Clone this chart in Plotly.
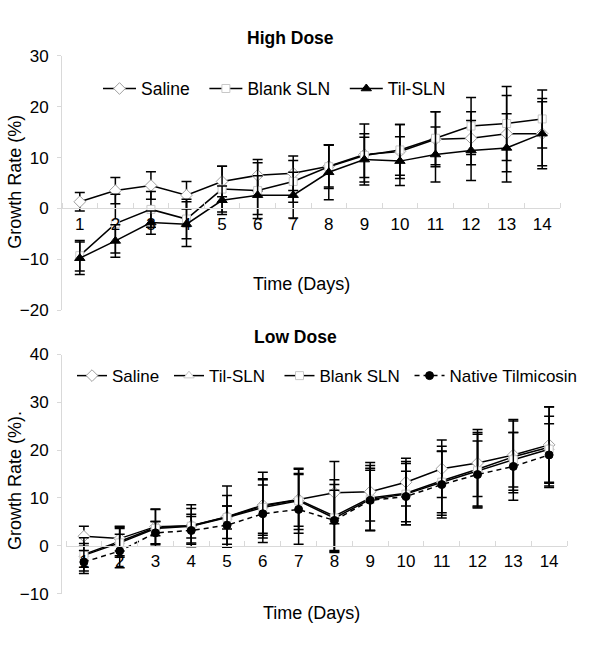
import plotly.graph_objects as go

days = list(range(1, 15))
day_labels = [str(d) for d in days]

# High dose
high_saline = [1.3, 3.5, 4.5, 2.6, 5.3, 6.5, 6.9, 8.3, 10.6, 11.2, 13.6, 13.8, 14.7, 14.7]
high_saline_sd = [1.8, 2.6, 2.7, 2.7, 3.0, 3.1, 3.4, 4.1, 6.0, 5.3, 5.4, 5.2, 7.5, 6.9]
high_blank = [-9.3, -3.0, -0.2, -2.1, 3.8, 3.5, 5.3, 8.2, 10.4, 11.5, 13.8, 16.2, 16.7, 17.6]
high_blank_sd = [3.0, 5.8, 3.5, 3.9, 4.5, 5.5, 4.1, 4.3, 4.3, 5.0, 5.2, 5.6, 7.3, 5.7]
high_til = [-9.8, -6.4, -2.8, -3.1, 1.6, 2.6, 2.6, 7.1, 9.6, 9.3, 10.6, 11.4, 11.9, 14.7]
high_til_sd = [3.2, 3.2, 2.3, 4.4, 2.8, 3.8, 4.5, 5.4, 4.4, 4.8, 5.4, 5.9, 6.7, 6.3]

# Low dose
low_saline = [2.0, 1.5, 4.0, 4.2, 6.1, 8.5, 9.7, 11.1, 11.3, 13.3, 16.1, 17.3, 19.0, 21.1]
low_saline_sd = [2.1, 2.6, 3.6, 4.4, 6.4, 6.9, 6.3, 6.5, 6.1, 5.0, 6.0, 7.0, 7.4, 8.0]
low_til = [-1.8, 0.9, 3.8, 4.2, 6.0, 8.3, 9.6, 6.2, 10.0, 11.0, 13.6, 16.0, 18.6, 20.6]
low_til_sd = [3.5, 3.0, 3.9, 3.6, 4.5, 5.7, 5.5, 7.6, 6.8, 6.6, 7.2, 7.7, 7.5, 8.4]
low_blank = [-2.0, 0.6, 3.6, 4.1, 5.9, 8.0, 9.4, 5.8, 9.7, 10.8, 13.3, 15.7, 18.0, 20.2]
low_blank_sd = [2.5, 3.0, 1.5, 2.5, 2.4, 5.8, 6.8, 7.0, 6.5, 6.4, 6.4, 7.6, 5.7, 6.9]
low_native = [-3.4, -1.1, 2.7, 3.2, 4.3, 6.7, 7.6, 5.3, 9.5, 10.3, 12.8, 14.9, 16.6, 19.0]
low_native_sd = [2.4, 3.5, 2.4, 2.9, 4.0, 6.0, 7.3, 6.3, 6.3, 5.3, 7.0, 7.0, 7.1, 6.5]

W, H = 600, 657
FONT = "Arial, Liberation Sans, sans-serif"
AX = "#d9d9d9"
NB = "\u00a0"


def fx(p):
    return p / W


def fy(p):
    return 1 - p / H


def err(sd):
    return dict(type="data", array=sd, color="black", thickness=1.5, width=5)


fig = go.Figure()


def add(y, sd, name, symbol, fill, outline, xa, ya, leg, dash="solid", size=8):
    fig.add_trace(go.Scatter(
        x=days, y=y, name=name, mode="lines+markers",
        line=dict(color="black", width=1.5, dash=dash),
        marker=dict(symbol=symbol, size=size, color=fill,
                    line=dict(color=outline, width=1)),
        error_y=err(sd), xaxis=xa, yaxis=ya, legend=leg,
    ))


add(high_saline, high_saline_sd, "Saline" + NB * 2, "diamond", "white", "#a0a0a0", "x", "y", "legend", size=9)
add(high_blank, high_blank_sd, "Blank SLN" + NB * 2, "square", "white", "#c8c8c8", "x", "y", "legend")
add(high_til, high_til_sd, "Til-SLN", "triangle-up", "black", "black", "x", "y", "legend", size=9)

add(low_saline, low_saline_sd, "Saline" + NB, "diamond", "white", "#a0a0a0", "x2", "y2", "legend2", size=9)
add(low_til, low_til_sd, "Til-SLN" + NB * 2, "triangle-up", "white", "#c8c8c8", "x2", "y2", "legend2", size=9)
add(low_blank, low_blank_sd, "Blank SLN" + NB, "square", "white", "#c8c8c8", "x2", "y2", "legend2")
add(low_native, low_native_sd, "Native Tilmicosin", "circle", "black", "black", "x2", "y2", "legend2",
    dash="5px,4px")

tickfont = dict(family=FONT, size=17, color="black")


def yax(domain, rng):
    return dict(domain=domain, range=rng, dtick=10, showline=True, linecolor=AX,
                linewidth=1, ticks="outside", ticklen=4, tickcolor=AX,
                ticklabelstandoff=5,
                showgrid=False, zeroline=False, tickfont=tickfont)


def xax(domain, pos):
    return dict(domain=domain, range=[0.5, 14.5], anchor="free", position=pos,
                tickvals=days, ticktext=day_labels, ticks="", showline=True,
                linecolor=AX, linewidth=1, showgrid=False, zeroline=False,
                tickfont=tickfont,
                minor=dict(ticks="inside", tick0=0.5, dtick=1, ticklen=5,
                           tickcolor=AX, showgrid=False))


def note(text, x, y, size, angle=0):
    return dict(text=text, x=fx(x), y=fy(y), xref="paper", yref="paper",
                xanchor="center", yanchor="middle", showarrow=False,
                textangle=angle, font=dict(family=FONT, size=size, color="black"))


fig.update_layout(
    width=W, height=H, margin=dict(l=0, r=0, t=0, b=0),
    paper_bgcolor="white", plot_bgcolor="white",
    font=dict(family=FONT, size=17, color="black"),
    xaxis=xax([fx(62), fx(560)], fy(205.3)),
    yaxis=yax([fy(310), fy(48.3)], [-20, 30]),
    xaxis2=xax([fx(66), fx(567)], fy(552.6)),
    yaxis2=yax([fy(602), fy(355.8)], [-10, 40]),
    legend=dict(orientation="h", x=fx(98), y=fy(82), xanchor="left", yanchor="middle",
                font=dict(family=FONT, size=17.5), bgcolor="rgba(0,0,0,0)",
                itemwidth=33, tracegroupgap=0),
    legend2=dict(orientation="h", x=fx(72), y=fy(378), xanchor="left", yanchor="middle",
                 font=dict(family=FONT, size=17), bgcolor="rgba(0,0,0,0)",
                 itemwidth=30, tracegroupgap=0),
    showlegend=True,
    annotations=[
        note("<b>High Dose</b>", 290, 30, 17.5),
        note("<b>Low Dose</b>", 295, 338, 17.5),
        note("Time (Days)", 301, 283, 18),
        note("Time (Days)", 311, 622, 18),
        note("Growth Rate (%)", 15, 178, 18, -90),
        note("Growth Rate (%).", 15, 486, 18, -90),
    ],
)

fig.write_html("out.html", config={"displayModeBar": False},
               post_script="document.body.style.margin='0';")
